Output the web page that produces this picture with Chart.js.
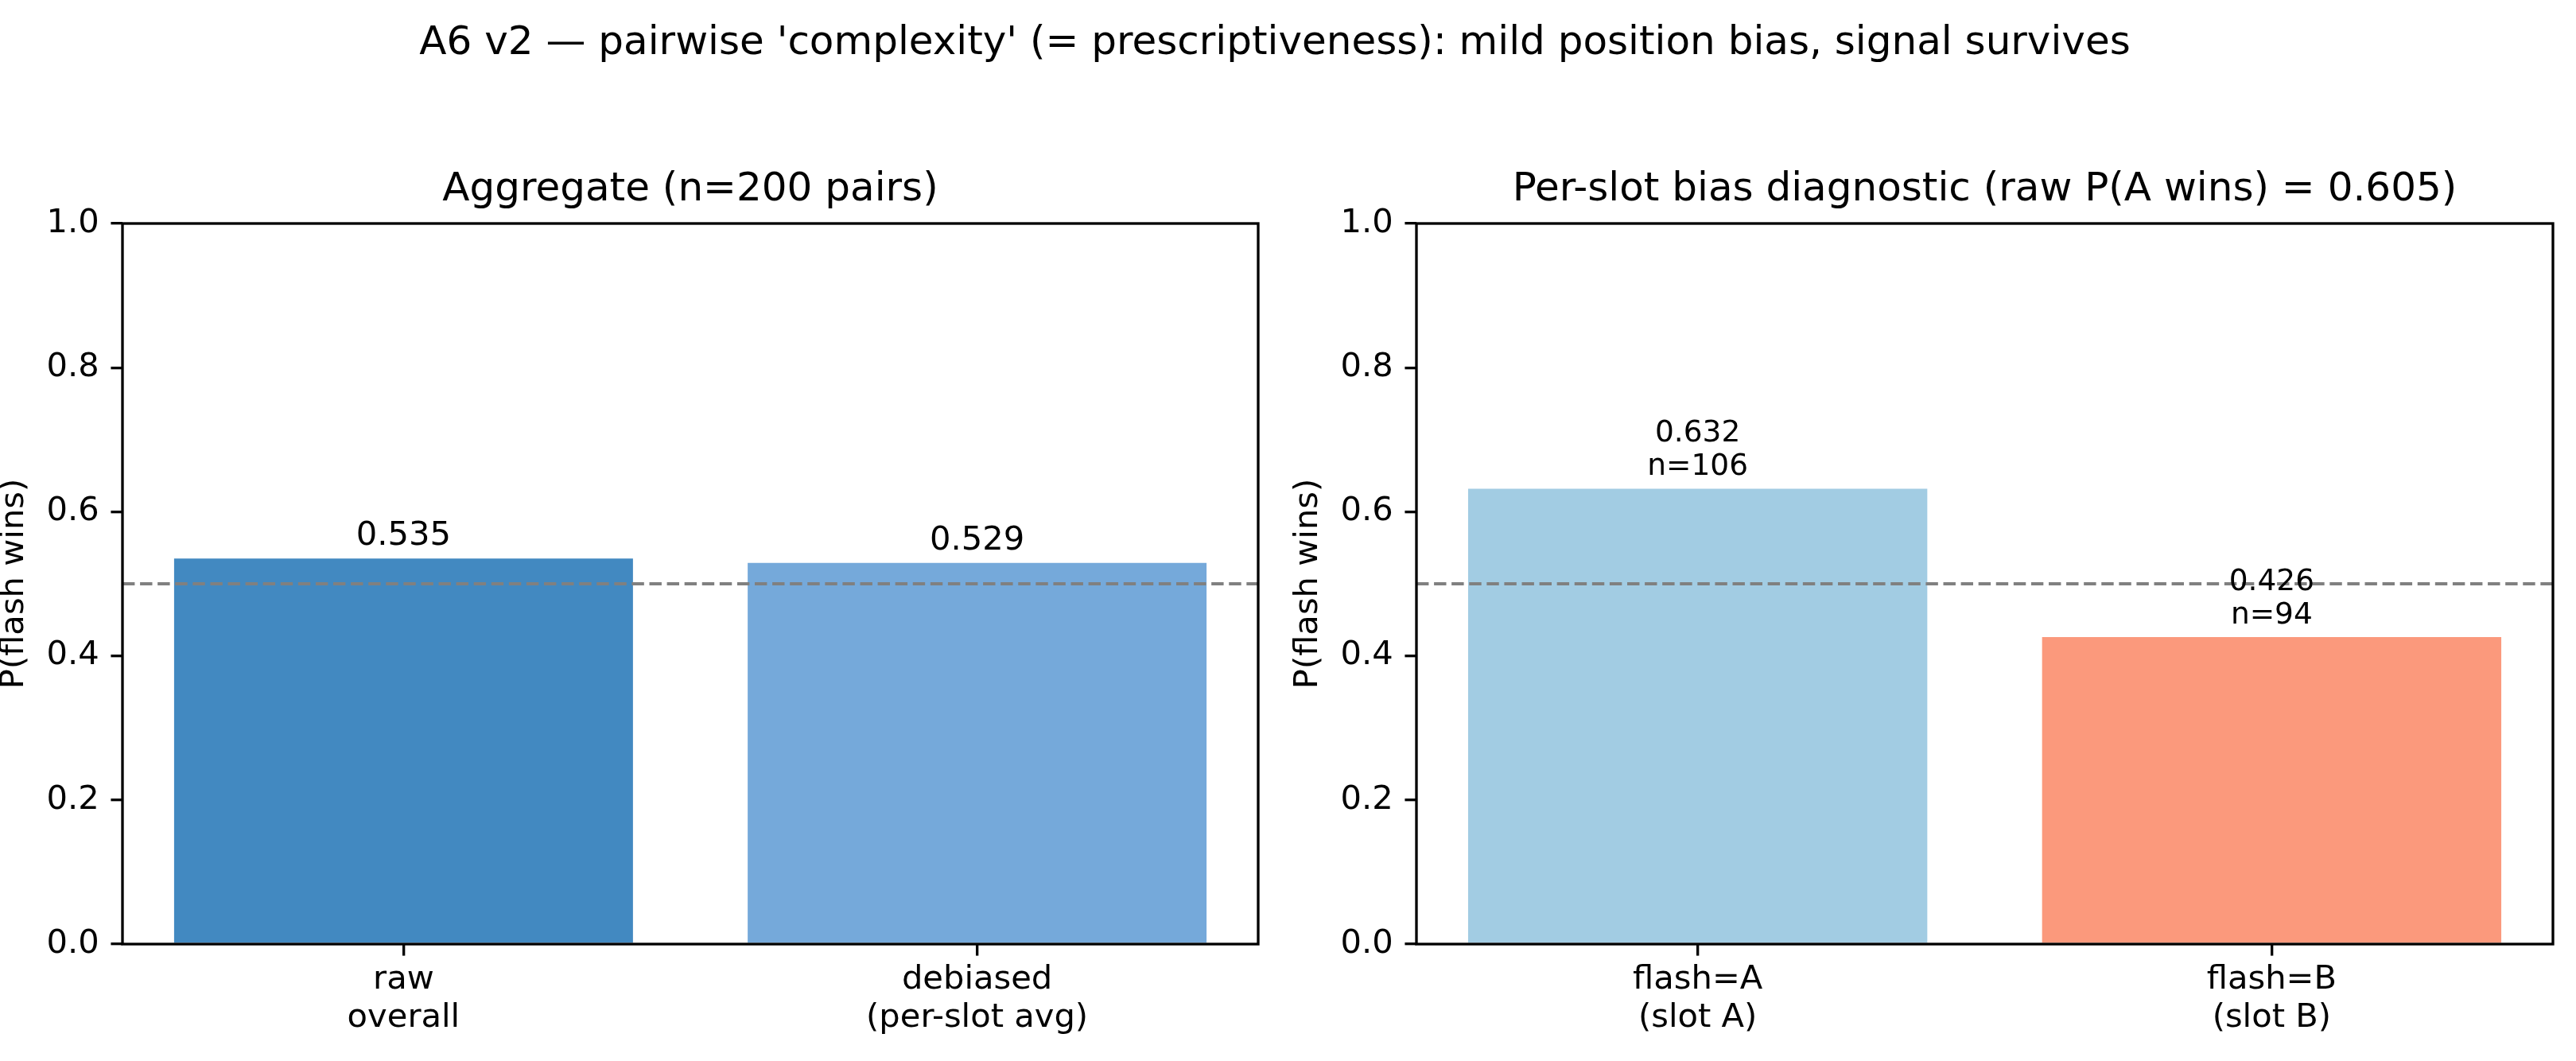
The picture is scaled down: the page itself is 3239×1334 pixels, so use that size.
<!DOCTYPE html>
<html>
<head>
<meta charset="utf-8">
<script src="https://cdn.jsdelivr.net/npm/chart.js@4/dist/chart.umd.min.js"></script>
<style>
  html, body { margin: 0; padding: 0; background: #fff; overflow: hidden; }
  #page { position: relative; width: 3239px; height: 1334px; background: #fff; }
  #suptitle {
    position: absolute; left: 0; width: 3206px; top: 21px;
    text-align: center; font: 50px "DejaVu Sans"; line-height: 60px; color: #000;
  }
  canvas { position: absolute; top: 0; }
</style>
</head>
<body>
<div id="page">
  <div id="suptitle">A6 v2 — pairwise 'complexity' (= prescriptiveness): mild position bias, signal survives</div>
  <canvas id="aggChart" width="1620" height="1334" style="left:0px"></canvas>
  <canvas id="slotChart" width="1619" height="1334" style="left:1620px"></canvas>
</div>
<script>
/* global Chart */

// aggregate panel
const aggLabels = [["raw", "overall"], ["debiased", "(per-slot avg)"]];
const aggValues = [0.535, 0.529];
const aggBarText = [["0.535"], ["0.529"]];
const aggColors = ["#4289c1", "#75a9da"];

// per-slot panel
const slotLabels = [["flash=A", "(slot A)"], ["flash=B", "(slot B)"]];
const slotValues = [0.632, 0.426];
const slotCounts = [106, 94];
const slotColors = ["#a2cce3", "#fb997c"];

const yTicks = [0, 0.2, 0.4, 0.6, 0.8, 1.0];
const chanceLevel = 0.5;
const xRange = [-0.49, 1.49];

const PT = 300 / 72;   // reference was drawn at 300 dpi

Chart.defaults.font.family = "DejaVu Sans";
Chart.defaults.color = "#000";

const frame = {
  id: "frame",
  afterDraw(chart) {
    const { ctx, chartArea: a } = chart;
    ctx.save();
    ctx.strokeStyle = "#000";
    ctx.lineWidth = 0.8 * PT;
    ctx.strokeRect(a.left, a.top, a.right - a.left, a.bottom - a.top);
    ctx.restore();
  }
};

const barText = {
  id: "barText",
  afterDatasetsDraw(chart, args, opts) {
    const { ctx } = chart;
    const meta = chart.getDatasetMeta(1);
    ctx.save();
    ctx.font = `${opts.size}px "DejaVu Sans"`;
    ctx.fillStyle = "#000";
    ctx.textAlign = "center";
    ctx.textBaseline = "alphabetic";
    meta.data.forEach((bar, i) => {
      const lines = opts.lines[i];
      lines.forEach((line, j) => {
        const up = (lines.length - 1 - j) * opts.lineGap;
        ctx.fillText(line, bar.x, bar.y - 17 - up);
      });
    });
    ctx.restore();
  }
};

function makeChart(id, cfg) {
  const ctx = document.getElementById(id).getContext("2d");
  const points = cfg.values.map((v, i) => ({ x: i, y: v }));

  return new Chart(ctx, {
    type: "bar",
    data: {
      datasets: [
        {
          type: "line",
          data: [{ x: xRange[0], y: chanceLevel }, { x: xRange[1], y: chanceLevel }],
          borderColor: "#808080",
          borderWidth: 1 * PT,
          borderDash: [3.7 * PT, 1.6 * PT],
          pointRadius: 0,
          order: 0
        },
        {
          data: points,
          backgroundColor: cfg.colors,
          borderWidth: 0,
          barPercentage: 0.8,
          categoryPercentage: 1,
          order: 1
        }
      ]
    },
    options: {
      responsive: false,
      animation: false,
      devicePixelRatio: 1,
      layout: { padding: { left: 0, right: cfg.padRight, top: 0, bottom: 0 } },
      plugins: {
        legend: { display: false },
        tooltip: { enabled: false },
        title: {
          display: true,
          text: cfg.title,
          fullSize: false,
          font: { size: 12 * PT, weight: "normal", lineHeight: 1.2 },
          padding: { top: 208.7, bottom: 12.3 },
          color: "#000"
        },
        barText: { lines: cfg.barLines, size: cfg.barFont, lineGap: 42 }
      },
      scales: {
        x: {
          type: "linear",
          offset: false,
          min: xRange[0],
          max: xRange[1],
          afterBuildTicks: s => { s.ticks = cfg.labels.map((l, i) => ({ value: i })); },
          afterFit: s => { s.height = 147; },
          ticks: {
            callback: v => cfg.labels[v],
            font: { size: 10 * PT, lineHeight: 1.13 },
            padding: 7.5,
            maxRotation: 0,
            autoSkip: false
          },
          grid: {
            offset: false,
            drawOnChartArea: false,
            color: "#000",
            lineWidth: 0.8 * PT,
            tickLength: 3.5 * PT
          },
          border: { display: false }
        },
        y: {
          min: 0,
          max: 1,
          afterBuildTicks: s => { s.ticks = yTicks.map(v => ({ value: v })); },
          afterFit: s => { s.width = cfg.yWidth; },
          ticks: {
            callback: v => v.toFixed(1),
            font: { size: 10 * PT },
            padding: 3.5 * PT
          },
          grid: {
            drawOnChartArea: false,
            color: "#000",
            lineWidth: 0.8 * PT,
            tickLength: 3.5 * PT
          },
          border: { display: false },
          title: {
            display: true,
            text: "P(flash wins)",
            font: { size: 10 * PT, lineHeight: 0.85 },
            padding: { top: cfg.yTitlePad, bottom: 0 }
          }
        }
      }
    },
    plugins: [frame, barText]
  });
}

makeChart("aggChart", {
  title: "Aggregate (n=200 pairs)",
  labels: aggLabels,
  values: aggValues,
  colors: aggColors,
  barLines: aggBarText,
  barFont: 10 * PT,
  yWidth: 154,
  padRight: 38,
  yTitlePad: 0
});

makeChart("slotChart", {
  title: "Per-slot bias diagnostic (raw P(A wins) = 0.605)",
  labels: slotLabels,
  values: slotValues,
  colors: slotColors,
  barLines: slotValues.map((v, i) => [v.toFixed(3), "n=" + slotCounts[i]]),
  barFont: 9 * PT,
  yWidth: 161,
  padRight: 29,
  yTitlePad: 7.9
});
</script>
</body>
</html>
